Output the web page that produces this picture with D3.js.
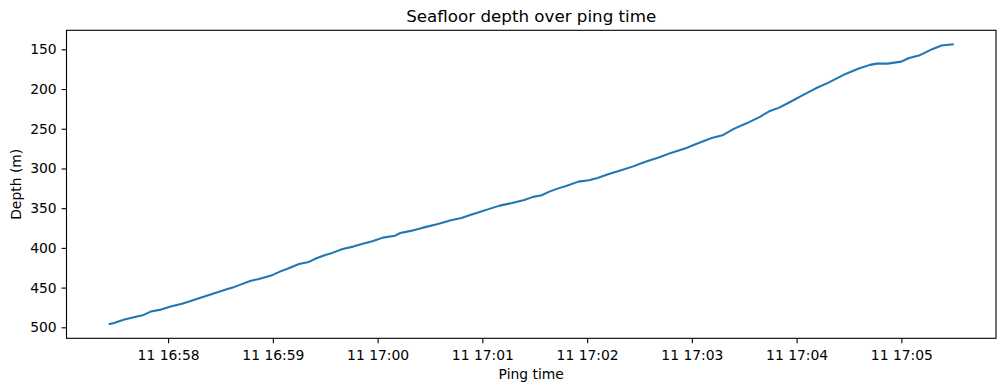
<!DOCTYPE html>
<html>
<head>
<meta charset="utf-8">
<script src="https://cdn.jsdelivr.net/npm/d3@7"></script>
<style>
  html, body { margin: 0; padding: 0; background: #fff; }
  svg { display: block; font-family: "DejaVu Sans", sans-serif; }
</style>
</head>
<body>
<svg id="chart" width="1005" height="391"></svg>
<script>
// ---- data ----
const pingDate = "2023-01-11";
const pingTimes = [
  "16:57:26","16:57:29","16:57:35","16:57:41","16:57:46","16:57:50","16:57:56","16:58:02","16:58:08","16:58:12",
  "16:58:19","16:58:27","16:58:34","16:58:38","16:58:43","16:58:47","16:58:52","16:59:00","16:59:04","16:59:08",
  "16:59:15","16:59:20","16:59:25","16:59:30","16:59:34","16:59:40","16:59:46","16:59:52","16:59:57","17:00:03",
  "17:00:10","17:00:13","17:00:19","17:00:26","17:00:34","17:00:42","17:00:48","17:00:53","17:00:58","17:01:04",
  "17:01:10","17:01:17","17:01:24","17:01:29","17:01:34","17:01:38","17:01:43","17:01:48","17:01:55","17:02:01",
  "17:02:06","17:02:12","17:02:19","17:02:26","17:02:33","17:02:41","17:02:48","17:02:56","17:03:01","17:03:08",
  "17:03:12","17:03:18","17:03:24","17:03:31","17:03:39","17:03:44","17:03:50","17:03:56","17:04:03","17:04:11",
  "17:04:18","17:04:28","17:04:36","17:04:42","17:04:46","17:04:52","17:05:00","17:05:04","17:05:10","17:05:18",
  "17:05:23","17:05:30"
];
const depths = [
  496.2,494.5,490.3,486.9,484.4,480.2,477.7,473.6,470.2,467.6,
  462.6,456.7,451.7,449.1,445.0,441.6,439.1,434.0,429.9,426.5,
  420.2,418.2,413.1,408.9,406.3,401.3,398.4,394.6,391.7,387.1,
  384.6,381.2,378.6,374.5,370.3,365.3,362.3,358.5,355.2,350.9,
  346.8,343.4,339.6,335.8,333.8,329.5,325.4,322.0,316.6,314.9,
  311.9,307.4,302.7,297.7,291.8,286.3,280.4,275.0,270.4,264.6,
  261.2,257.8,250.2,243.5,235.1,228.4,223.4,216.7,208.3,199.1,
  192.3,181.0,173.9,169.6,168.0,168.0,165.5,161.3,157.9,149.5,
  145.3,143.7
];
const yTicks = [150, 200, 250, 300, 350, 400, 450, 500];
const xTickTimes = ["16:58","16:59","17:00","17:01","17:02","17:03","17:04","17:05"];
const titleText = "Seafloor depth over ping time";
const xLabel = "Ping time";
const yLabel = "Depth (m)";

(function () {
// ---- layout ----
const W = 1005, H = 391;
const mLeft = 66.5, mRight = 996, mTop = 30.3, mBottom = 338.3;
const fs = 13.9;

const parse = d3.timeParse("%Y-%m-%d %H:%M:%S");
const data = pingTimes.map((t, i) => ({ t: parse(pingDate + " " + t), d: depths[i] }));

const tExt = d3.extent(data, d => d.t.getTime());
const tPad = (tExt[1] - tExt[0]) * 0.05;
const x = d3.scaleTime()
  .domain([new Date(tExt[0] - tPad), new Date(tExt[1] + tPad)])
  .range([mLeft, mRight]);

const dExt = d3.extent(data, d => d.d);
const dPad = (dExt[1] - dExt[0]) * 0.05;
const y = d3.scaleLinear()
  .domain([dExt[0] - dPad, dExt[1] + dPad])
  .range([mTop, mBottom]);

const svg = d3.select("#chart");
svg.append("rect").attr("width", W).attr("height", H).attr("fill", "#fff");

// line
const line = d3.line().x(d => x(d.t)).y(d => y(d.d));
svg.append("path").datum(data)
  .attr("d", line)
  .attr("fill", "none")
  .attr("stroke", "#1f77b4")
  .attr("stroke-width", 2.08)
  .attr("stroke-linejoin", "round")
  .attr("stroke-linecap", "butt");

// axes
const xTicks = xTickTimes.map(s => parse(pingDate + " " + s + ":00"));
const xAxis = d3.axisBottom(x)
  .tickValues(xTicks)
  .tickFormat(d3.timeFormat("%d %H:%M"))
  .tickSize(4.9).tickSizeOuter(0).tickPadding(6.9);
const gx = svg.append("g").attr("transform", `translate(0,${mBottom})`).call(xAxis);

const yAxis = d3.axisLeft(y)
  .tickValues(yTicks)
  .tickFormat(d3.format("d"))
  .tickSize(4.9).tickSizeOuter(0).tickPadding(4.9);
const gy = svg.append("g").attr("transform", `translate(${mLeft},0)`).call(yAxis);

[gx, gy].forEach(g => {
  g.select(".domain").remove();
  g.selectAll(".tick line").attr("stroke", "#000").attr("stroke-width", 1.1);
  g.selectAll(".tick text").attr("fill", "#000")
    .style("font-size", fs + "px").style("font-family", "DejaVu Sans, sans-serif");
});

// frame
svg.append("rect")
  .attr("x", mLeft).attr("y", mTop)
  .attr("width", mRight - mLeft).attr("height", mBottom - mTop)
  .attr("fill", "none").attr("stroke", "#000").attr("stroke-width", 1.1);

// title & labels
svg.append("text")
  .attr("x", (mLeft + mRight) / 2).attr("y", 22)
  .attr("text-anchor", "middle")
  .style("font-size", "16.7px")
  .text(titleText);

svg.append("text")
  .attr("x", (mLeft + mRight) / 2).attr("y", 378.5)
  .attr("text-anchor", "middle")
  .style("font-size", fs + "px")
  .text(xLabel);

svg.append("text")
  .attr("transform", `translate(20.5,${(mTop + mBottom) / 2}) rotate(-90)`)
  .attr("text-anchor", "middle")
  .style("font-size", fs + "px")
  .text(yLabel);
})();
</script>
</body>
</html>
